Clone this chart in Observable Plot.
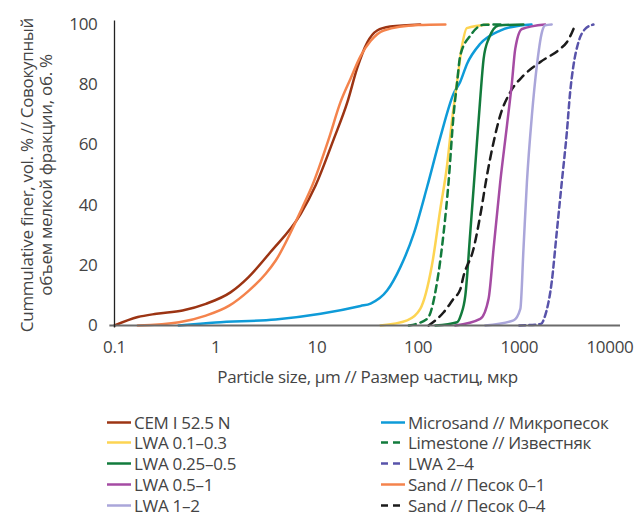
<!DOCTYPE html>
<html><head><meta charset="utf-8">
<script src="https://cdn.jsdelivr.net/npm/d3@7"></script>
<script src="https://cdn.jsdelivr.net/npm/@observablehq/plot@0.6"></script>
<style>
body{margin:0;background:#fff;}
#wrap{position:relative;width:636px;height:517px;font-family:"Open Sans",sans-serif;color:#444;}
#wrap svg{display:block}
.item{position:absolute;display:flex;align-items:center;font-size:17px;line-height:17px;letter-spacing:-0.3px;white-space:nowrap;height:17px;color:#444}
.item svg{margin-right:3px}
</style></head><body><div id="wrap"></div>
<script>
// ---- data ----
const xTicks = [0.1, 1, 10, 100, 1000, 10000];
const xTickLabels = ["0.1", "1", "10", "100", "1000", "10000"];
const yTicks = [0, 20, 40, 60, 80, 100];

const cemX = [0.1, 0.17, 0.26, 0.47, 0.8, 1.4, 2.1, 3.5, 6.9, 9.7, 14.7, 20, 25, 31.4, 39.4, 53, 105];
const cemY = [0, 2.8, 3.9, 5.0, 7.2, 11, 16, 24.5, 37, 46.5, 62, 74.2, 85.5, 94, 98, 99.3, 100];

const sand01X = [0.17, 0.435, 0.8, 1.36, 2.13, 3.12, 3.92, 7.2, 9.0, 13.1, 17.1, 21.5, 27, 33.9, 45.7, 100, 186];
const sand01Y = [0, 1.1, 3.3, 6.6, 11.6, 17.2, 21.6, 39.3, 46.5, 62, 74.2, 82, 89.5, 94.5, 98, 99.8, 100];

const microX = [0.43, 1, 3.9, 10.9, 27, 33.9, 49.4, 66.8, 90.6, 122.7, 166, 224, 261, 304, 411, 648, 1024, 1320];
const microY = [0, 1.0, 2.0, 3.9, 6.5, 7.3, 11.6, 19.4, 30.5, 46, 62.6, 77, 81, 86.9, 93.6, 98, 99.7, 100];

const lwa0103X = [42.5, 78, 105, 137, 166, 193, 216, 243, 272, 303, 497];
const lwa0103Y = [0, 1.7, 5.5, 20, 38.8, 53, 68, 81, 93, 98.8, 100];

const limeX = [81, 123, 154, 179, 200, 224, 243, 261, 328, 443, 680];
const limeY = [0, 2.2, 14.4, 31, 47.6, 69.8, 80.8, 89.7, 96.3, 99.9, 100];

const lwa02505X = [148, 243, 265, 293, 328, 367, 411, 444, 497, 624, 1097];
const lwa02505Y = [0, 1.1, 3.5, 10, 31, 53, 75.3, 88.6, 95.2, 99.7, 100];

const sand04X = [127, 179, 224, 261, 282, 353, 411, 479, 557, 648, 813, 1097, 1606, 2529, 2950, 3550];
const sand04Y = [0, 4.4, 8.9, 12, 16.6, 25.5, 36.5, 49.8, 60.9, 69.8, 77.5, 83, 87.5, 91.9, 94.1, 99.7];

const lwa0510X = [233, 411, 497, 557, 648, 755, 846, 912, 1062, 1800];
const lwa0510Y = [0, 2.2, 8.9, 25.5, 47.6, 66.4, 80.8, 91.9, 98.5, 100];

const lwa12X = [461, 877, 1024, 1100, 1189, 1332, 1492, 1672, 1800, 2090];
const lwa12Y = [0, 1.7, 5.5, 25.5, 47.6, 69.8, 86.4, 97.4, 99.7, 100];

const lwa24X = [1000, 1630, 1800, 2090, 2345, 2630, 2950, 3180, 3430, 3840, 4470, 5400];
const lwa24Y = [0, 0.5, 3.3, 14.4, 31, 47.6, 64.2, 77.5, 86.4, 94.1, 98.5, 100];

const seriesNames = ["CEM I 52.5 N", "Sand // Песок 0–1", "Microsand // Микропесок", "LWA 0.1–0.3",
  "Limestone // Известняк", "LWA 0.25–0.5", "Sand // Песок 0–4", "LWA 0.5–1", "LWA 1–2", "LWA 2–4"];
const seriesX = [cemX, sand01X, microX, lwa0103X, limeX, lwa02505X, sand04X, lwa0510X, lwa12X, lwa24X];
const seriesY = [cemY, sand01Y, microY, lwa0103Y, limeY, lwa02505Y, sand04Y, lwa0510Y, lwa12Y, lwa24Y];
const seriesColors = ["#9c3413", "#f4834c", "#0e9bd8", "#fdd452", "#127b3c", "#127b3c", "#1b1b1b", "#a54ba3", "#aaa6da", "#5853aa"];
const seriesDash = [null, null, null, null, "7,5", null, "8,6", null, null, "6,4"];

const legendLeft = ["CEM I 52.5 N", "LWA 0.1–0.3", "LWA 0.25–0.5", "LWA 0.5–1", "LWA 1–2"];
const legendRight = ["Microsand // Микропесок", "Limestone // Известняк", "LWA 2–4", "Sand // Песок 0–1", "Sand // Песок 0–4"];

const xTitle = "Particle size, μm // Размер частиц, мкр";
const yTitle1 = "Cummulative finer, vol. % // Совокупный";
const yTitle2 = "объем мелкой фракции, об. %";

// ---- build ----
const lineMarks = seriesNames.map((name, i) => {
  const rows = seriesX[i].map((x, j) => ({x, y: seriesY[i][j]}));
  const opts = {x: "x", y: "y", stroke: seriesColors[i], strokeWidth: 2.5, curve: "monotone-x"};
  if (seriesDash[i]) opts.strokeDasharray = seriesDash[i];
  return Plot.line(rows, opts);
});

const tickRows = xTicks.map((t, i) => ({x: t, label: xTickLabels[i]}));
const lastTick = tickRows.length - 1;

const chart = Plot.plot({
  width: 636, height: 400,
  marginLeft: 114, marginRight: 16, marginTop: 24, marginBottom: 75,
  style: {fontFamily: "'Open Sans', sans-serif", fontSize: "17px", color: "#444", background: "white", letterSpacing: "-0.3px"},
  x: {type: "log", domain: [0.1, 10000], axis: null},
  y: {domain: [0, 100], axis: null},
  marks: [
    ...lineMarks,
    Plot.ruleY([0], {x1: 0.09, x2: 10000, stroke: "#6b6b6b", strokeWidth: 2}),
    Plot.ruleX([0.1], {y1: -0.8, y2: 101.2, stroke: "#222", strokeWidth: 1.3}),
    Plot.text(tickRows.slice(0, lastTick), {x: "x", text: "label", frameAnchor: "bottom", lineAnchor: "top", dy: 15, fill: "#444"}),
    Plot.text(tickRows.slice(lastTick), {x: "x", text: "label", frameAnchor: "bottom", lineAnchor: "top", textAnchor: "end", dy: 15, dx: 13, fill: "#444"}),
    Plot.axisY({ticks: yTicks, tickSize: 0, tickPadding: 17, label: null, fill: "#444"}),
    Plot.text([xTitle], {frameAnchor: "bottom", dy: 57, fill: "#444"}),
    Plot.text([yTitle1], {frameAnchor: "left", textAnchor: "middle", rotate: -90, dx: -87, fill: "#444"}),
    Plot.text([yTitle2], {frameAnchor: "left", textAnchor: "middle", rotate: -90, dx: -68, fill: "#444"})
  ]
});

const wrap = document.getElementById("wrap");
wrap.appendChild(chart);

function addItem(name, left, cy) {
  const i = seriesNames.indexOf(name);
  const d = document.createElement("div");
  d.className = "item";
  d.style.left = left + "px";
  d.style.top = (cy - 8.5) + "px";
  const dash = seriesDash[i] ? ` stroke-dasharray="7,5"` : "";
  d.innerHTML = `<svg width="24" height="17"><line x1="0" y1="8.5" x2="24" y2="8.5" stroke="${seriesColors[i]}" stroke-width="2.5"${dash}/></svg><span></span>`;
  d.querySelector("span").textContent = name;
  wrap.appendChild(d);
}
legendLeft.forEach((n, k) => addItem(n, 107, 422 + 20.8 * k));
legendRight.forEach((n, k) => addItem(n, 381, 422 + 20.8 * k));
</script>
</body></html>
